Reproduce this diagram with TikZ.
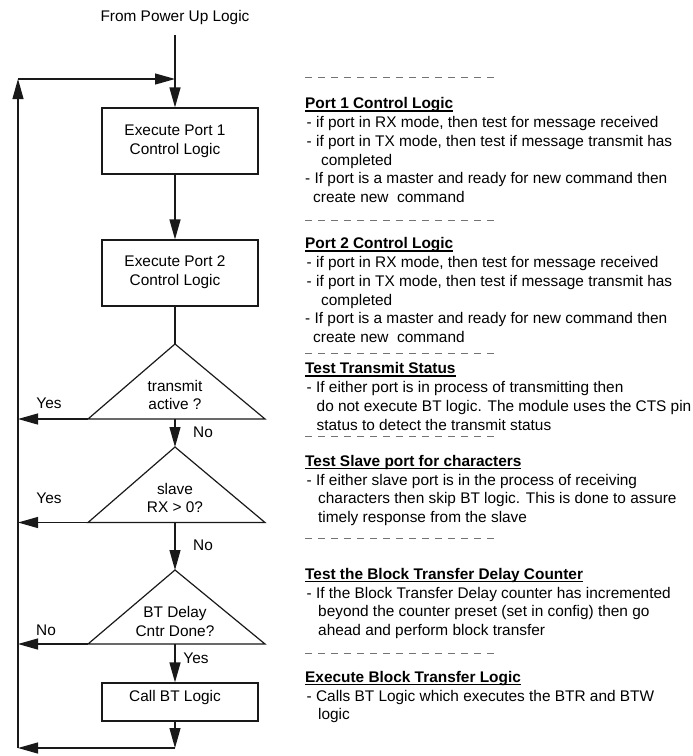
\documentclass[tikz,border=0pt]{standalone}
\usepackage{fontspec}
\setmainfont{Liberation Sans}
\usetikzlibrary{arrows.meta}

% bold heading with a rule just under the baseline
\newcommand\headline[1]{\setbox0\hbox{\bfseries #1}\rlap{\rule[-2.8pt]{\wd0}{1.4pt}}\box0}

\begin{document}
\begin{tikzpicture}[x=1pt,y=-1pt,
  every node/.style={font=\fontsize{15.4}{18.8}\selectfont, inner sep=0pt, text=black},
  flow/.style={draw=black!90, line width=1.2pt},
  arr/.style={flow, -{Triangle[length=20pt,width=11pt]}},
  procbox/.style={draw=black!90, line width=1.2pt, minimum width=156pt},
  decision/.style={draw=black!90, line width=1.2pt, line join=miter},
  note/.style={anchor=north west, align=left},
  sep/.style={draw=black!55, line width=0.9pt, dash pattern=on 7pt off 6pt}
]
\useasboundingbox (0,0) rectangle (693,756);

% ---------------- flow chart ----------------
\node (src) at (175,18) {From Power Up Logic};

\node[procbox, minimum height=66pt] (p1) at (180,141) {};
\node[align=center] (p1t) at (175,141) {Execute Port 1\\Control Logic};

\node[procbox, minimum height=66pt] (p2) at (180,273) {};
\node[align=center] (p2t) at (175,272.5) {Execute Port 2\\Control Logic};

% decision triangles
\coordinate (t1top) at (175,344);
\coordinate (t1l) at (88,419);
\coordinate (t1r) at (265,419);
\coordinate (t1b) at (175,419);
\draw[decision] (t1top) -- (t1r) -- (t1l) -- cycle;
\node[align=center] (t1t) at (175,395) {transmit\\active ?};

\coordinate (t2top) at (175,447);
\coordinate (t2l) at (88,522.5);
\coordinate (t2r) at (265,522.5);
\coordinate (t2b) at (175,522.5);
\draw[decision] (t2top) -- (t2r) -- (t2l) -- cycle;
\node[align=center] (t2t) at (175,498) {slave\\RX > 0?};

\coordinate (t3top) at (175,570);
\coordinate (t3l) at (88,644);
\coordinate (t3r) at (265,644);
\coordinate (t3b) at (175,644);
\draw[decision] (t3top) -- (t3r) -- (t3l) -- cycle;
\node[align=center] (t3t) at (175,621.5) {BT Delay\\Cntr Done?};

\node[procbox, minimum height=38pt] (p3) at (180,702) {};
\node (p3t) at (175,698) {Call BT Logic};

% loop-back corners
\coordinate (cTL) at (18,79);
\coordinate (cBL) at (18,748);
\coordinate (cB) at (175,748);

% connectors
\draw[arr] ([yshift=-10pt]src.south) -- (src.south |- p1.north);
\draw[arr] (src.south |- p1.south) -- (src.south |- p2.north);
\draw[flow] (src.south |- p2.south) -- (t1top);
\draw[arr] (t1l) -- (t1l -| cTL);
\draw[arr] (t1b) -- (t2top);
\draw[arr] (t2l) -- (t2l -| cTL);
\draw[arr] (t2b) -- (t3top);
\draw[arr] (t3l) -- (t3l -| cTL);
\draw[arr] (t3b) -- (src.south |- p3.north);
\draw[arr] (src.south |- p3.south) -- (cB);
\draw[arr] (cB) -- (cBL);
\draw[arr] (cBL) -- (cTL);
\draw[arr] (cTL) -- (src.south |- cTL);

% branch labels
\node (yes1) at (49,403) {Yes};
\node (no1) at (203,432) {No};
\node (yes2) at (49,498) {Yes};
\node (no2) at (203,545) {No};
\node (no3) at (46,630) {No};
\node (yes3) at (196,658) {Yes};

% ---------------- notes column ----------------
\draw[sep] (305,77.5) -- (496,77.5);
\node[note] (np1) at (305,96.5) {\rule{0pt}{12pt}\headline{Port 1 Control Logic}\\
\hspace*{1.5pt}- if port in RX mode, then test for message received\\
\hspace*{1.5pt}- if port in TX mode, then test if message transmit has\\
\hspace*{16pt}completed\\
- If port is a master and ready for new command then\\
\hspace*{8pt}create new~~command};

\draw[sep] (305,220) -- (496,220);
\node[note] (np2) at (305,236.5) {\rule{0pt}{12pt}\headline{Port 2 Control Logic}\\
\hspace*{1.5pt}- if port in RX mode, then test for message received\\
\hspace*{1.5pt}- if port in TX mode, then test if message transmit has\\
\hspace*{16pt}completed\\
- If port is a master and ready for new command then\\
\hspace*{8pt}create new~~command};

\draw[sep] (305,353) -- (496,353);
\node[note] (ntx) at (305,361.5) {\rule{0pt}{12pt}\headline{Test Transmit Status}\\
\hspace*{1.5pt}- If either port is in process of transmitting then\\
\hspace*{11.5pt}do not execute BT logic. The module uses the CTS pin\\
\hspace*{11.5pt}status to detect the transmit status};

\draw[sep] (305,436.5) -- (496,436.5);
\node[note] (nsl) at (305,454) {\rule{0pt}{12pt}\headline{Test Slave port for characters}\\
\hspace*{1.5pt}- If either slave port is in the process of receiving\\
\hspace*{13pt}characters then skip BT logic. This is done to assure\\
\hspace*{13pt}timely response from the slave};

\draw[sep] (305,538) -- (496,538);
\node[note] (nbt) at (305,567) {\rule{0pt}{12pt}\headline{Test the Block Transfer Delay Counter}\\
\hspace*{1.5pt}- If the Block Transfer Delay counter has incremented\\
\hspace*{13pt}beyond the counter preset (set in config) then go\\
\hspace*{13pt}ahead and perform block transfer};

\draw[sep] (305,653) -- (496,653);
\node[note] (nex) at (305,670) {\rule{0pt}{12pt}\headline{Execute Block Transfer Logic}\\
\hspace*{1.5pt}- Calls BT Logic which executes the BTR and BTW\\
\hspace*{13pt}logic};
\end{tikzpicture}
\end{document}
